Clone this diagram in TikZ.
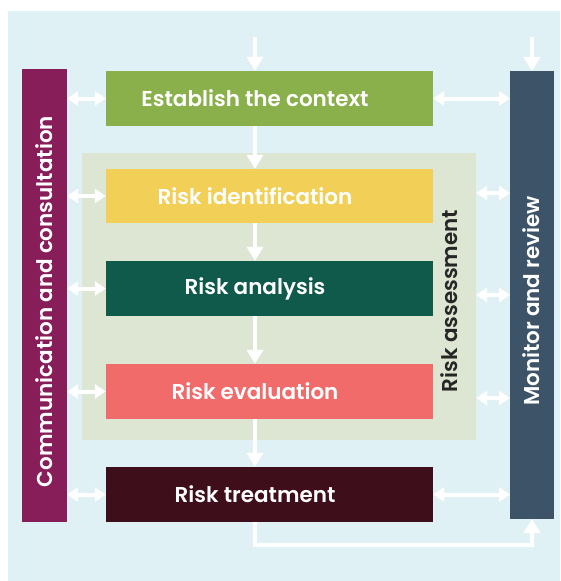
\documentclass[tikz,border=0pt]{standalone}
\usepackage{fontspec}
\setmainfont{Poppins}[BoldFont={Poppins SemiBold}]
\usetikzlibrary{arrows.meta}
\definecolor{paper}{HTML}{DFF1F4}
\definecolor{assessbg}{HTML}{DDE6D3}
\definecolor{commc}{HTML}{871D59}
\definecolor{contextc}{HTML}{8AB04B}
\definecolor{identc}{HTML}{F2CF57}
\definecolor{analysc}{HTML}{0F5A4A}
\definecolor{evalc}{HTML}{F26B6B}
\definecolor{treatc}{HTML}{3E0E1A}
\definecolor{monc}{HTML}{3D5468}
\definecolor{inkc}{HTML}{262626}
\begin{document}
\begin{tikzpicture}[x=1pt,y=-1pt,
    txt/.style={font=\bfseries\fontsize{21.5}{24}\selectfont},
    stage/.style={fill=#1,minimum width=327pt,minimum height=55pt,inner sep=0pt},
    stagelbl/.style={txt,text=white,xshift=-14.5pt},
    sidelbl/.style={txt,text=white,rotate=90},
    flow/.style={draw=white,line width=4.5pt,-{Triangle[width=16pt,length=14pt]}},
    link/.style={draw=white,line width=4pt,{Triangle[width=14pt,length=11pt]}-{Triangle[width=14pt,length=11pt]}}]
  \useasboundingbox (0,0) rectangle (560,581);
  \fill[paper] (8,11) rectangle (560,581);
  % risk assessment panel
  \node[fill=assessbg,minimum width=394pt,minimum height=287pt,inner sep=0pt] (assess) at (279,296.5) {};
  \node[txt,rotate=90,text=inkc] (assesslbl) at (449,301) {Risk assessment};
  % process steps
  \node[stage=contextc,label={[stagelbl]center:Establish the context}] (context) at (269.5,98.5) {};
  \node[stage=identc,minimum height=54pt,label={[stagelbl]center:Risk identification}] (ident) at (269.5,196) {};
  \node[stage=analysc,label={[stagelbl]center:Risk analysis}] (analys) at (269.5,288.5) {};
  \node[stage=evalc,label={[stagelbl]center:Risk evaluation}] (eval) at (269.5,391.5) {};
  \node[stage=treatc,label={[stagelbl]center:Risk treatment}] (treat) at (269.5,494.5) {};
  % side bars
  \fill[commc] (22,69) rectangle (67,522) coordinate (commbr);
  \coordinate (comm) at (67,0);
  \node[sidelbl] (commlbl) at (44.5,301.5) {Communication and consultation};
  \fill[monc] (510,71) coordinate (montl) rectangle (554,519);
  \coordinate (monitor) at (510,0);
  \coordinate (montop) at (532,71);
  \coordinate (monbot) at (532,519);
  \node[sidelbl] (monlbl) at (531,301) {Monitor and review};
  % main flow
  \coordinate (spine) at (255,37);
  \coordinate (monin) at (532,37);
  \draw[flow] (spine) -- (spine |- context.north);
  \draw[flow] (monin) -- (montop);
  \draw[flow] (spine |- context.south) -- (spine |- ident.north);
  \draw[flow] (spine |- ident.south) -- (spine |- analys.north);
  \draw[flow] (spine |- analys.south) -- (spine |- eval.north);
  \draw[flow] (spine |- assess.south) -- (spine |- treat.north);
  \draw[white,line width=4.5pt] (spine |- eval.south) -- (spine |- assess.south);
  \coordinate (loop) at (255,545);
  \draw[flow] (spine |- treat.south) -- (loop) -| (monbot);
  % communication links
  \foreach \s in {context,ident,analys,eval,treat}
    \draw[link] (comm |- \s.west) -- (\s.west);
  % monitoring links
  \draw[link] (context.east) -- (monitor |- context.east);
  \foreach \y in {193,295,398}
    \draw[link] (assess.east |- 0,\y) -- (monitor |- 0,\y);
  \draw[link] (treat.east) -- (monitor |- treat.east);
\end{tikzpicture}
\end{document}
